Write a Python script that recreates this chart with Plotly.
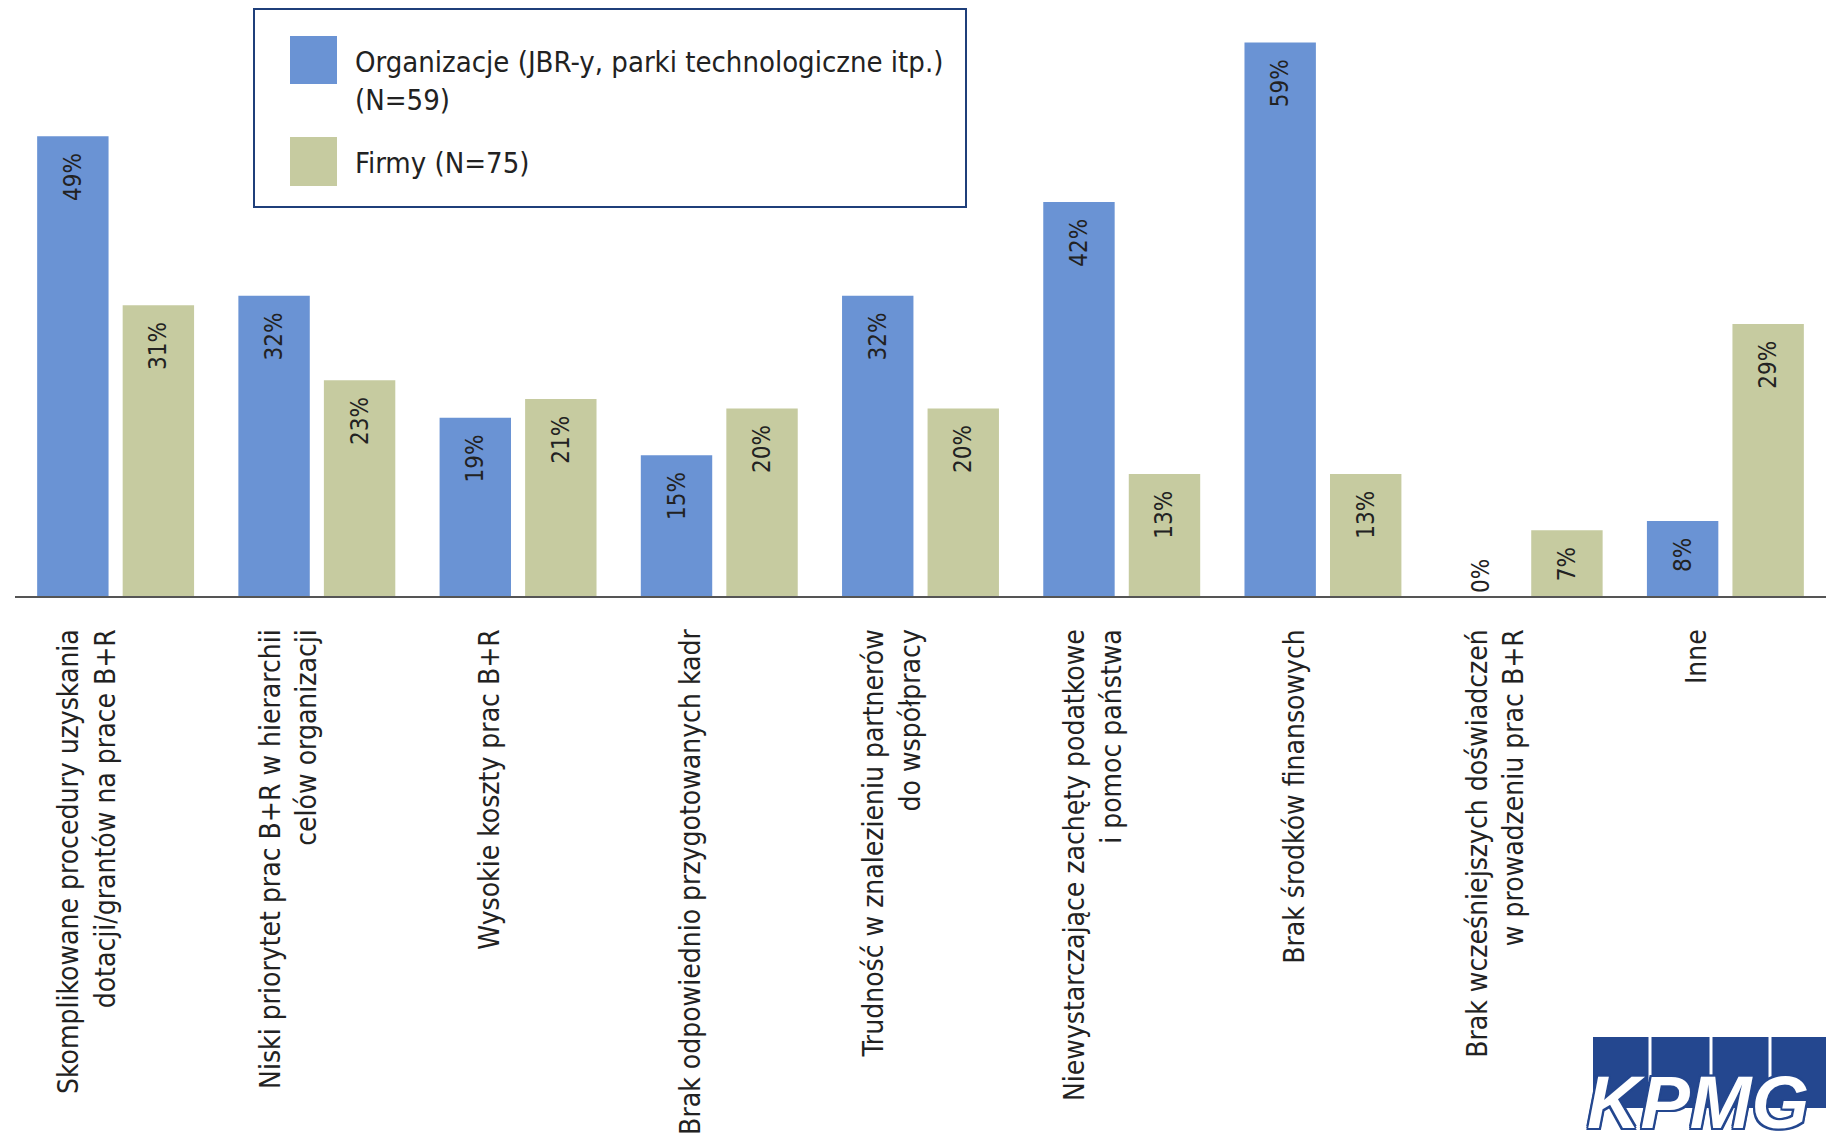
import plotly.graph_objects as go

# ---------------- data ----------------
categories = [
    "Skomplikowane procedury uzyskania<br>dotacji/grantów na prace B+R",
    "Niski priorytet prac B+R w hierarchii<br>celów organizacji",
    "Wysokie koszty prac B+R",
    "Brak odpowiednio przygotowanych kadr",
    "Trudność w znalezieniu partnerów<br>do współpracy",
    "Niewystarczające zachęty podatkowe<br>i pomoc państwa",
    "Brak środków finansowych",
    "Brak wcześniejszych doświadczeń<br>w prowadzeniu prac B+R",
    "Inne",
]
organizacje = [49, 32, 19, 15, 32, 42, 59, 0, 8]
firmy = [31, 23, 21, 20, 20, 13, 13, 7, 29]
series_names = ["Organizacje (JBR-y, parki technologiczne itp.)<br>(N=59)", "Firmy (N=75)"]

# ---------------- style ----------------
W, H = 1826, 1143
ML, MR, MT, MB = 15, 0, 5, 547
PW, PH = W - ML - MR, H - MT - MB
BLUE = "#6A93D4"
GREEN = "#C6CBA0"
NAVY = "#1F3F7A"
KPMG_BLUE = "#24478F"
NARROW = "Liberation Sans Narrow, Arial Narrow, DejaVu Sans Condensed, sans-serif"
TEXT = "#222222"
PAD = "\u00a0\u00a0"


def px(x):
    return (x - ML) / PW


def py(y):
    return (H - MB - y) / PH


xs = list(range(len(categories)))


def make_bar(vals, name, color):
    return go.Bar(
        x=xs,
        y=vals,
        name=name,
        marker=dict(color=color, line=dict(width=0)),
        text=[f"{v}%" if v == 0 else f"{v}%{PAD}" for v in vals],
        textposition=["outside" if v == 0 else "inside" for v in vals],
        insidetextanchor="end",
        textangle=-90,
        cliponaxis=False,
        insidetextfont=dict(family=NARROW, size=24, color=TEXT),
        outsidetextfont=dict(family=NARROW, size=24, color=TEXT),
        showlegend=False,
        hoverinfo="skip",
    )


fig = go.Figure()
fig.add_trace(make_bar(organizacje, series_names[0], BLUE))
fig.add_trace(make_bar(firmy, series_names[1], GREEN))

fig.update_layout(
    width=W,
    height=H,
    margin=dict(l=ML, r=MR, t=MT, b=MB, pad=0, autoexpand=False),
    paper_bgcolor="white",
    plot_bgcolor="white",
    barmode="group",
    bargap=0.15,
    bargroupgap=0.165,
    font=dict(family=NARROW, color=TEXT),
    xaxis=dict(
        range=[-0.5, len(categories) - 0.5],
        tickmode="array",
        tickvals=[i - 0.14 for i in xs],
        ticktext=categories,
        tickangle=-90,
        ticks="",
        ticklabelstandoff=20,
        tickfont=dict(family=NARROW, size=28, color=TEXT),
        automargin=False,
        showline=True,
        linecolor="#555555",
        linewidth=2,
        showgrid=False,
        zeroline=False,
        fixedrange=True,
    ),
    yaxis=dict(
        range=[0, 63],
        visible=False,
        automargin=False,
        showgrid=False,
        zeroline=False,
        fixedrange=True,
    ),
)

# ---------------- legend (custom, to match large swatches) ----------------
shapes = [
    dict(type="rect", xref="paper", yref="paper", x0=px(254), x1=px(966), y0=py(9), y1=py(207),
         line=dict(color=NAVY, width=2), fillcolor="rgba(0,0,0,0)"),
    dict(type="rect", xref="paper", yref="paper", x0=px(290), x1=px(337), y0=py(36), y1=py(84),
         line=dict(width=0), fillcolor=BLUE),
    dict(type="rect", xref="paper", yref="paper", x0=px(290), x1=px(337), y0=py(137), y1=py(186),
         line=dict(width=0), fillcolor=GREEN),
]
annotations = [
    dict(xref="paper", yref="paper", x=px(353), y=py(81), xanchor="left", yanchor="middle",
         text=series_names[0], showarrow=False, align="left",
         font=dict(family=NARROW, size=29, color=TEXT)),
    dict(xref="paper", yref="paper", x=px(353), y=py(163), xanchor="left", yanchor="middle",
         text=series_names[1], showarrow=False, align="left",
         font=dict(family=NARROW, size=29, color=TEXT)),
]

# ---------------- KPMG logo ----------------
shapes.append(dict(type="rect", xref="paper", yref="paper", x0=px(1593), x1=px(1826), y0=py(1037), y1=py(1108),
                   line=dict(width=0), fillcolor=KPMG_BLUE))
for sx in (1650, 1711, 1770):
    shapes.append(dict(type="line", xref="paper", yref="paper", x0=px(sx), x1=px(sx), y0=py(1037), y1=py(1082),
                       line=dict(color="white", width=3)))
annotations.append(
    dict(xref="paper", yref="paper", x=px(1698), y=py(1102), xanchor="center", yanchor="middle",
         text="<b><i>KPMG</i></b>", showarrow=False,
         font=dict(family="Liberation Sans, Arial, sans-serif", size=74, color="white",
                   shadow=f"2px 0 0 {KPMG_BLUE}, -2px 0 0 {KPMG_BLUE}, 0 2px 0 {KPMG_BLUE}, 0 -2px 0 {KPMG_BLUE}, 2px 2px 0 {KPMG_BLUE}, -2px -2px 0 {KPMG_BLUE}, 2px -2px 0 {KPMG_BLUE}, -2px 2px 0 {KPMG_BLUE}"))
)

fig.update_layout(shapes=shapes, annotations=annotations)

fig.write_html("out.html", config=dict(displayModeBar=False),
               post_script="document.body.style.margin='0';document.body.style.overflow='hidden';")
